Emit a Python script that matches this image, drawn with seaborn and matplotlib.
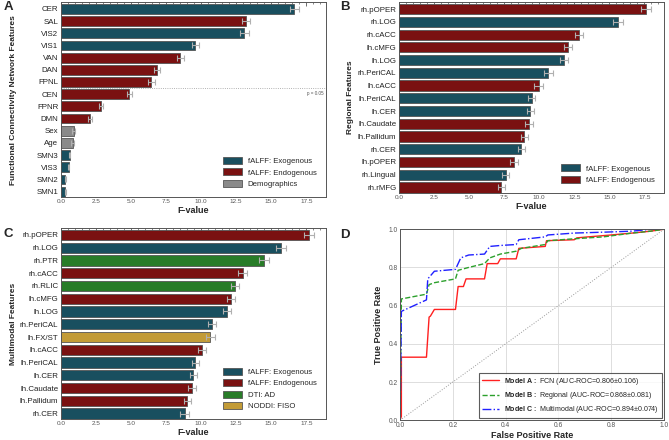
import numpy as np
import pandas as pd
import seaborn as sns
import matplotlib.pyplot as plt
from matplotlib.ticker import AutoMinorLocator

# ---- data ----
fcn_names = ['CER', 'SAL', 'VIS2', 'VIS1', 'VAN', 'DAN', 'FPNL', 'CEN', 'FPNR', 'DMN',
             'Sex', 'Age', 'SMN3', 'VIS3', 'SMN2', 'SMN1']
fcn_f = [16.65, 13.2, 13.08, 9.58, 8.5, 6.83, 6.43, 4.88, 2.85, 2.07,
         0.9, 0.82, 0.62, 0.55, 0.3, 0.3]
fcn_err = [0.3, 0.3, 0.3, 0.25, 0.25, 0.2, 0.25, 0.2, 0.15, 0.12,
           0.1, 0.1, 0.05, 0.05, 0.05, 0.05]
fcn_type = ['fALFF: Exogenous', 'fALFF: Endogenous', 'fALFF: Exogenous', 'fALFF: Exogenous',
            'fALFF: Endogenous', 'fALFF: Endogenous', 'fALFF: Endogenous', 'fALFF: Endogenous',
            'fALFF: Endogenous', 'fALFF: Endogenous', 'Demographics', 'Demographics',
            'fALFF: Exogenous', 'fALFF: Exogenous', 'fALFF: Exogenous', 'fALFF: Exogenous']

reg_names = ['rh.pOPER', 'rh.LOG', 'rh.cACC', 'lh.cMFG', 'lh.LOG', 'rh.PeriCAL', 'lh.cACC',
             'lh.PeriCAL', 'lh.CER', 'lh.Caudate', 'lh.Pallidum', 'rh.CER', 'lh.pOPER',
             'rh.Lingual', 'rh.rMFG']
reg_f = [17.6, 15.6, 12.85, 12.05, 11.75, 10.65, 9.95, 9.45, 9.35, 9.28, 8.92, 8.72,
         8.2, 7.62, 7.28]
reg_err = [0.35, 0.35, 0.3, 0.3, 0.3, 0.3, 0.3, 0.25, 0.25, 0.3, 0.25, 0.25, 0.25, 0.25, 0.25]
reg_type = ['fALFF: Endogenous', 'fALFF: Exogenous', 'fALFF: Endogenous', 'fALFF: Endogenous',
            'fALFF: Exogenous', 'fALFF: Exogenous', 'fALFF: Endogenous', 'fALFF: Exogenous',
            'fALFF: Exogenous', 'fALFF: Endogenous', 'fALFF: Endogenous', 'fALFF: Exogenous',
            'fALFF: Endogenous', 'fALFF: Exogenous', 'fALFF: Endogenous']

mm_names = ['rh.pOPER', 'rh.LOG', 'rh.PTR', 'rh.cACC', 'rh.RLIC', 'lh.cMFG', 'lh.LOG',
            'rh.PeriCAL', 'lh.FX/ST', 'lh.cACC', 'lh.PeriCAL', 'lh.CER', 'lh.Caudate',
            'lh.Pallidum', 'rh.CER']
mm_f = [17.7, 15.7, 14.5, 12.95, 12.4, 12.12, 11.85, 10.78, 10.65, 10.05, 9.57, 9.42,
        9.35, 9.0, 8.82]
mm_err = [0.35, 0.35, 0.35, 0.3, 0.3, 0.3, 0.3, 0.3, 0.3, 0.3, 0.25, 0.25, 0.3, 0.25, 0.3]
mm_type = ['fALFF: Endogenous', 'fALFF: Exogenous', 'DTI: AD', 'fALFF: Endogenous', 'DTI: AD',
           'fALFF: Endogenous', 'fALFF: Exogenous', 'fALFF: Exogenous', 'NODDI: FISO',
           'fALFF: Endogenous', 'fALFF: Exogenous', 'fALFF: Exogenous', 'fALFF: Endogenous',
           'fALFF: Endogenous', 'fALFF: Exogenous']

# ROC curves
fpr_a = [0, 0.005, 0.005, 0.10, 0.11, 0.115, 0.13, 0.21, 0.22, 0.24, 0.25, 0.32, 0.33,
         0.37, 0.38, 0.44, 0.45, 0.50, 0.55, 0.555, 0.66, 0.67, 0.80, 0.88, 0.95, 1.0]
tpr_a = [0, 0.02, 0.33, 0.33, 0.54, 0.545, 0.58, 0.58, 0.70, 0.70, 0.74, 0.74, 0.82,
         0.82, 0.845, 0.845, 0.90, 0.905, 0.91, 0.94, 0.945, 0.955, 0.97, 0.98, 0.99, 1.0]
fpr_b = [0, 0.005, 0.10, 0.11, 0.13, 0.21, 0.22, 0.26, 0.32, 0.34, 0.38, 0.44, 0.46,
         0.55, 0.56, 0.66, 0.77, 0.88, 0.95, 1.0]
tpr_b = [0, 0.635, 0.66, 0.71, 0.72, 0.74, 0.785, 0.80, 0.82, 0.85, 0.87, 0.885, 0.90,
         0.92, 0.94, 0.95, 0.96, 0.98, 0.99, 1.0]
fpr_c = [0, 0.005, 0.10, 0.105, 0.13, 0.21, 0.23, 0.26, 0.32, 0.34, 0.38, 0.44, 0.45,
         0.55, 0.56, 0.66, 0.78, 0.88, 0.95, 1.0]
tpr_c = [0, 0.57, 0.63, 0.74, 0.78, 0.79, 0.85, 0.865, 0.87, 0.91, 0.915, 0.92, 0.945,
         0.96, 0.97, 0.98, 0.985, 0.99, 1.0, 1.0]
roc_labels = [r'$\bf{Model\ A:}$ FCN (AUC-ROC=0.806±0.106)',
              r'$\bf{Model\ B:}$ Regional (AUC-ROC=0.868±0.081)',
              r'$\bf{Model\ C:}$ Multimodal (AUC-ROC=0.894±0.074)']

palette = {'fALFF: Exogenous': '#0e566a', 'fALFF: Endogenous': '#8b0000',
           'Demographics': '#8a8a8a', 'DTI: AD': '#1a8a1a', 'NODDI: FISO': '#d9a520'}

sns.set_theme(style='white')
plt.rcParams['font.family'] = ['Liberation Sans', 'DejaVu Sans']
plt.rcParams['mathtext.fontset'] = 'custom'
plt.rcParams['mathtext.rm'] = 'Liberation Sans'
plt.rcParams['mathtext.bf'] = 'Liberation Sans:bold'


def style_ax(ax):
    for s in ax.spines.values():
        s.set_color('#555555')
        s.set_linewidth(0.7)
    ax.tick_params(axis='both', direction='in', top=True, right=True, length=3,
                   width=0.6, color='#555555', pad=2)
    ax.xaxis.set_minor_locator(AutoMinorLocator(5))
    ax.tick_params(which='minor', direction='in', top=True, length=1.5, width=0.5,
                   color='#555555')
    ax.tick_params(axis='x', labelsize=4.6, labelcolor='#555555', pad=1.5)
    ax.tick_params(axis='y', labelsize=5.7, length=0, labelcolor='#222222')


def bar_panel(ax, names, vals, errs, types, order, ylabel, label_x):
    df = pd.DataFrame({'feature': names, 'F': vals, 'type': types})
    sns.barplot(data=df, x='F', y='feature', hue='type', hue_order=order,
                palette=palette, dodge=False, width=0.8, edgecolor='#555555',
                linewidth=0.6, ax=ax, legend=True)
    ax.errorbar(vals, np.arange(len(names)), xerr=errs, fmt='none',
                ecolor='#b0b0b0', elinewidth=0.8, capsize=2, capthick=0.8, zorder=5)
    ax.set_xlim(0, 18.9)
    ax.set_ylim(len(names) - 0.55, -0.55)
    ax.set_xticks(np.arange(0, 18, 2.5))
    ax.set_xlabel('F-value', fontsize=6.5, fontweight='bold', labelpad=1)
    ax.set_ylabel(ylabel, fontsize=6.0, fontweight='bold')
    ax.yaxis.set_label_coords(label_x, 0.5)
    style_ax(ax)
    ax.legend(loc='lower right', fontsize=5.6, frameon=False, handlelength=2.4,
              handleheight=1.0, borderaxespad=0.8, labelspacing=0.4, handletextpad=0.8)


fig = plt.figure(figsize=(6.69, 4.4), dpi=100)
ax_a = fig.add_axes([0.0912, 0.552, 0.396, 0.443])
ax_b = fig.add_axes([0.5965, 0.561, 0.396, 0.434])
ax_c = fig.add_axes([0.0912, 0.047, 0.396, 0.435])
ax_d = fig.add_axes([0.598, 0.045, 0.3945, 0.434])

bar_panel(ax_a, fcn_names, fcn_f, fcn_err, fcn_type,
          ['fALFF: Exogenous', 'fALFF: Endogenous', 'Demographics'],
          'Functional Connectivity Network Features', -0.165)
ax_a.axhline(6.5, color='#999999', lw=0.6, ls=':', zorder=0)
ax_a.text(18.7, 6.7, 'p = 0.05', fontsize=3.3, color='#555555', ha='right', va='top')

bar_panel(ax_b, reg_names, reg_f, reg_err, reg_type,
          ['fALFF: Exogenous', 'fALFF: Endogenous'], 'Regional Features', -0.17)

bar_panel(ax_c, mm_names, mm_f, mm_err, mm_type,
          ['fALFF: Exogenous', 'fALFF: Endogenous', 'DTI: AD', 'NODDI: FISO'],
          'Multimodal Features', -0.165)

# ROC panel
roc = [(fpr_a, tpr_a, '#ff2020', '-'), (fpr_b, tpr_b, '#2ca02c', '--'),
       (fpr_c, tpr_c, '#2020ff', '-.')]
for (fx, ty, col, ls), lab in zip(roc, roc_labels):
    sns.lineplot(x=fx, y=ty, sort=False, estimator=None, color=col, linestyle=ls,
                 lw=1.0, label=lab, ax=ax_d)
ax_d.plot([0, 1], [0, 1], ls=':', color='#999999', lw=0.7)
ax_d.set_xlim(0, 1)
ax_d.set_ylim(0, 1)
ax_d.set_xticks(np.arange(0, 1.01, 0.2))
ax_d.set_yticks(np.arange(0, 1.01, 0.2))
ax_d.grid(True, color='#dddddd', lw=0.7)
for s in ax_d.spines.values():
    s.set_color('#555555')
    s.set_linewidth(0.7)
ax_d.tick_params(axis='both', labelsize=4.8, labelcolor='#555555', length=0, pad=1.5)
ax_d.set_xlabel('False Positive Rate', fontsize=6.5, fontweight='bold', labelpad=1)
ax_d.set_ylabel('True Positive Rate', fontsize=6.5, fontweight='bold', labelpad=4)
leg = ax_d.legend(loc='lower right', fontsize=5.1, frameon=True, fancybox=False,
                  edgecolor='#333333', handlelength=2.3, borderaxespad=0.3,
                  labelspacing=0.45)
leg.get_frame().set_linewidth(0.8)

for lab, x, y in [('A', 0.005, 0.997), ('B', 0.508, 0.997), ('C', 0.005, 0.482),
                  ('D', 0.508, 0.48)]:
    fig.text(x, y, lab, fontsize=9.5, fontweight='bold', va='top', ha='left')

fig.savefig('out.png', dpi=100)
